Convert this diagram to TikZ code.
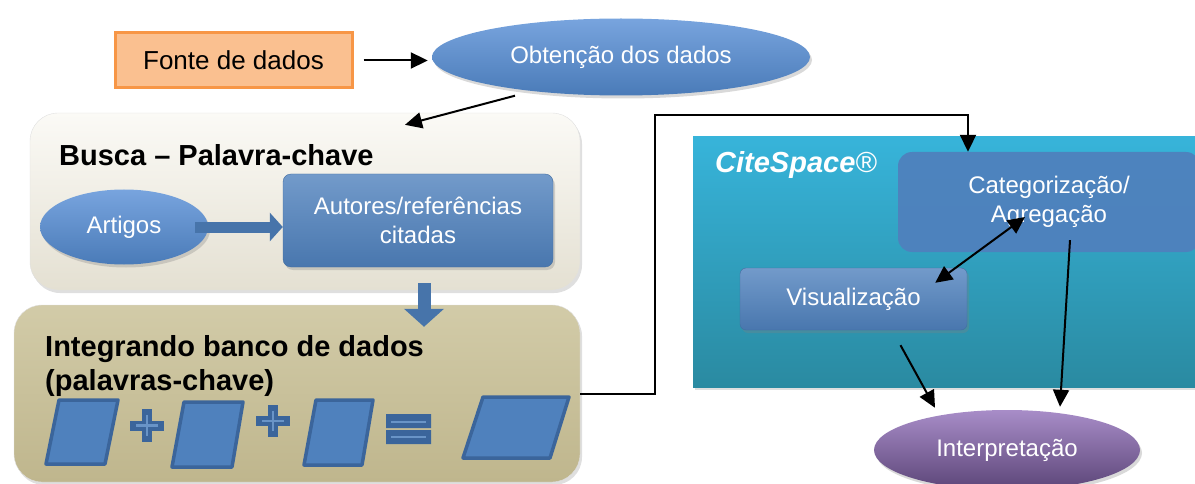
\documentclass[tikz,border=0pt]{standalone}
\usepackage{fontspec}
\setmainfont{Liberation Sans}
\usetikzlibrary{shapes,arrows.meta,shadows,positioning}
\definecolor{fonteorange}{HTML}{F79646}
\definecolor{fontefill}{HTML}{FAC090}
\definecolor{ovaltop}{HTML}{78A4DE}
\definecolor{ovalmid}{HTML}{4F81BD}
\definecolor{ovalbot}{HTML}{4A7BB8}
\definecolor{boxblue}{HTML}{4F81BD}
\definecolor{darkblue}{HTML}{3B659B}
\definecolor{buscatop}{HTML}{FBFAF6}
\definecolor{buscabot}{HTML}{E4E0D2}
\definecolor{integtop}{HTML}{D2CBA8}
\definecolor{integbot}{HTML}{BFB68D}
\definecolor{citetop}{HTML}{37B4DA}
\definecolor{citebot}{HTML}{2A8AA1}
\definecolor{interptop}{HTML}{A88DC8}
\definecolor{interpmid}{HTML}{7A5C9E}
\definecolor{interpbot}{HTML}{5C4578}
\newcommand{\normtext}{\fontsize{24}{29}\selectfont}
\newcommand{\titletext}{\fontsize{29}{34}\selectfont\bfseries}
\tikzstyle{panel}=[draw=black!12, rounded corners=28pt, inner sep=0pt,
  drop shadow={opacity=.25, shadow xshift=2pt, shadow yshift=-3pt}]
\tikzstyle{oval}=[ellipse, top color=ovaltop, middle color=ovalmid,
  bottom color=ovalbot, text=white, font=\normtext, inner sep=0pt,
  drop shadow={opacity=.3, shadow xshift=2pt, shadow yshift=-3pt}]
\tikzstyle{bluebox}=[draw=boxblue!85!black, rounded corners=8pt,
  top color=boxblue!80!white, middle color=boxblue, bottom color=boxblue!92!black,
  text=white, font=\normtext, align=center, inner sep=0pt,
  drop shadow={opacity=.3, shadow xshift=2pt, shadow yshift=-3pt}]
\tikzstyle{title}=[font=\titletext, inner sep=0pt]
\tikzstyle{conn}=[line width=2pt, black]
\tikzstyle{blockarrow}=[draw=boxblue!90!black, line width=11pt,
  -{Triangle[length=13pt,width=28pt]}]
\tikzstyle{para}=[fill=boxblue, draw=darkblue, line width=3.5pt,
  line join=round]
\tikzstyle{plussign}=[darkblue, line width=10pt]
\tikzstyle{plusline}=[boxblue!85!white, line width=2.5pt]

\begin{document}
\begin{tikzpicture}[x=1pt, y=-1pt, >={Triangle[length=17pt,width=16pt]}]
  \useasboundingbox (0,0) rectangle (1195,484);

  % upper row
  \node[draw=fonteorange, fill=fontefill, line width=3pt,
    minimum width=237, minimum height=55, font=\fontsize{26}{30}\selectfont]
    (fonte) at (233.5,60.5) {Fonte de dados};
  \node[oval, minimum width=378, minimum height=77] (obt) at (621,57)
    {Obtenção dos dados};

  % search panel
  \node[panel, top color=buscatop, bottom color=buscabot,
    minimum width=550, minimum height=177] (busca) at (305,201.5) {};
  \node[title, anchor=west] (buscatitle) at (59,155)
    {Busca – Palavra-chave};
  \node[oval, minimum width=168, minimum height=75] (artigos) at (124,227)
    {Artigos};
  \node[bluebox, minimum width=270, minimum height=93] (autores)
    at (418,220.5) {Autores/referências\\citadas};

  % database panel
  \node[panel, top color=integtop, bottom color=integbot,
    minimum width=566, minimum height=177] (integ) at (297,393.5) {};
  \node[title, anchor=north west, align=left] (integtitle) at (45,335)
    {Integrando banco de dados\\(palavras-chave)};
  \draw[para] (46,464) -- (105,464) -- (118,400) -- (59,400) -- cycle;
  \draw[para] (172,467) -- (232,467) -- (243,402) -- (184,402) -- cycle;
  \draw[para] (304,465) -- (362,465) -- (373,400) -- (316,400) -- cycle;
  \draw[para] (463,458) -- (550,458) -- (569,397) -- (483,397) -- cycle;
  \draw[plussign] (130,425.5) -- (164,425.5) (147,409) -- (147,442);
  \draw[plusline] (136,425.5) -- (158,425.5) (147,415) -- (147,436);
  \draw[plussign] (256,421) -- (290,421) (273,405) -- (273,437);
  \draw[plusline] (262,421) -- (284,421) (273,411) -- (273,431);
  \fill[darkblue] (386,414) rectangle (431,428) (386,430) rectangle (431,444);
  \draw[plusline] (391,422) -- (426,422) (391,437) -- (426,437);

  % CiteSpace panel
  \node[top color=citetop, bottom color=citebot, minimum width=507,
    minimum height=250, inner sep=0pt,
    drop shadow={opacity=.25, shadow xshift=2pt, shadow yshift=-3pt}]
    (cite) at (946.5,262) {};
  \node[anchor=west, text=white, font=\titletext\itshape, inner sep=0pt]
    (citename) at (715,165) {CiteSpace{\mdseries®}};
  \node[fill=boxblue, fill opacity=.95, text opacity=1, rounded corners=14pt,
    minimum width=302, minimum height=100, text=white, font=\normtext,
    align=center, inner sep=0pt] (catg) at (1049,202)
    {Categorização/\\Agregação};
  \node[bluebox, rounded corners=6pt, minimum width=227, minimum height=62]
    (visual) at (853.5,299) {Visualização};
  \node[ellipse, top color=interptop, middle color=interpmid,
    bottom color=interpbot, text=white, font=\normtext, inner sep=0pt,
    minimum width=266, minimum height=80,
    drop shadow={opacity=.3, shadow xshift=2pt, shadow yshift=-3pt}]
    (interp) at (1007,450) {Interpretação};

  % connectors
  \draw[conn, ->] ([xshift=10pt]fonte.east) -- ([xshift=-4pt]fonte.east -| obt.west);
  \draw[conn, ->] ([xshift=-106pt]obt.south) -- ([xshift=100pt,yshift=-12pt]busca.north);
  \draw[blockarrow] ([xshift=-13pt]artigos.east) -- (autores.west |- artigos.east);
  \draw[draw=boxblue!90!black, line width=13pt,
    -{Triangle[length=18pt,width=39pt]}]
    ([xshift=6pt,yshift=7pt]autores.south |- busca.south)
    -- ([xshift=6pt,yshift=-22pt]autores.south |- integ.north);
  \coordinate (elbow) at (655,115);
  \draw[conn, ->] (integ.east) -| (elbow) -| ([xshift=-81pt]catg.north);
  \draw[conn, <->] ([xshift=-32pt,yshift=-15pt]visual.north east)
    -- ([xshift=-24pt,yshift=-15pt]catg.center);
  \draw[conn, ->] ([xshift=47pt,yshift=-15pt]visual.south)
    -- ([xshift=-72pt,yshift=2pt]interp.north);
  \draw[conn, ->] ([xshift=21pt,yshift=12pt]catg.south)
    -- ([xshift=53pt,yshift=3pt]interp.north);
\end{tikzpicture}
\end{document}
